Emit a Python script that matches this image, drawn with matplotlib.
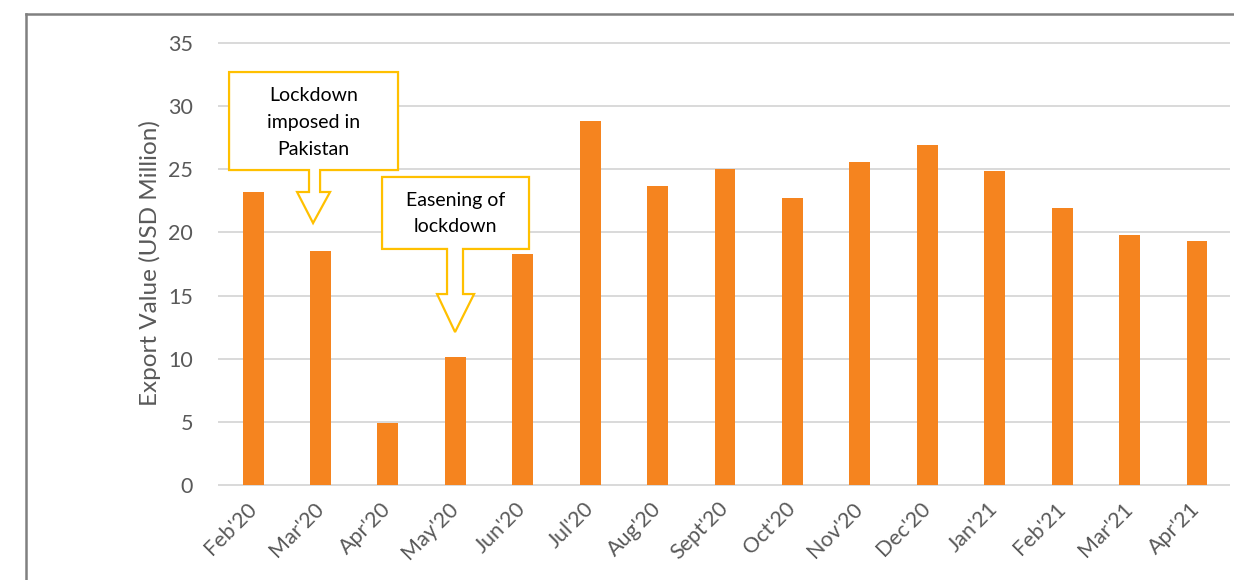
import matplotlib
matplotlib.use("Agg")
import matplotlib.pyplot as plt
from matplotlib.patches import Polygon
from matplotlib.lines import Line2D

months = ["Feb'20", "Mar'20", "Apr'20", "May'20", "Jun'20", "Jul'20", "Aug'20",
          "Sept'20", "Oct'20", "Nov'20", "Dec'20", "Jan'21", "Feb'21", "Mar'21", "Apr'21"]
export_values = [23.2, 18.5, 4.9, 10.1, 18.3, 28.8, 23.7, 25.0, 22.7, 25.6, 26.9, 24.9, 21.9, 19.8, 19.3]
yticks = [0, 5, 10, 15, 20, 25, 30, 35]

plt.rcParams['font.family'] = ['Lato', 'DejaVu Sans']

W, H = 1234, 580
fig = plt.figure(figsize=(W / 100, H / 100), dpi=100)
ax = fig.add_axes([218 / W, 1 - 487.5 / H, 1012 / W, (487.5 - 39.2) / H])

x = list(range(len(months)))
ax.bar(x, export_values, width=0.31, color='#F5841F', zorder=3)
ax.set_xlim(-0.52, 14.49)
ax.set_ylim(-0.2, 35.3)
ax.set_yticks(yticks)
ax.set_xticks(x)
ax.set_xticklabels(months, rotation=45, ha='right', va='center', rotation_mode='anchor')
for s in ax.spines.values():
    s.set_visible(False)
ax.tick_params(axis='both', length=0, colors='#595959', labelsize=15.5)
ax.tick_params(axis='y', pad=18)
ax.tick_params(axis='x', pad=13)
ax.grid(axis='y', color='#D9D9D9', linewidth=1.4, zorder=0)
ax.set_ylabel('Export Value (USD Million)', fontsize=17.5, color='#595959')
ax.yaxis.set_label_coords(-0.056, 0.5)

gold = '#FFC000'

def callout(x0, x1, y0, y1, sx0, sx1, hx0, hx1, hy, tipx, tipy, text, ty):
    pts = [(x0, y1), (x1, y1), (x1, y0), (sx1, y0), (sx1, hy), (hx1, hy), (tipx, tipy),
           (hx0, hy), (sx0, hy), (sx0, y0), (x0, y0)]
    p = Polygon(pts, closed=True, facecolor='white', edgecolor=gold, linewidth=1.6,
                zorder=5, clip_on=False, joinstyle='miter')
    ax.add_patch(p)
    ax.text((x0 + x1) / 2, ty, text, ha='center', va='center', fontsize=14,
            color='black', zorder=6, linespacing=1.7)

callout(-0.356, 2.150, 24.94, 32.70, 0.830, 0.994, 0.653, 1.142, 23.2, 0.89, 20.74,
        "Lockdown\nimposed in\nPakistan", 28.7)
callout(1.913, 4.093, 18.69, 24.39, 2.877, 3.114, 2.729, 3.278, 15.12, 2.996, 12.11,
        "Easening of\nlockdown", 21.5)

# outer frame (top and left edges visible)
fig.add_artist(Line2D([26 / W, 1.0], [1 - 14 / H, 1 - 14 / H], transform=fig.transFigure,
                      color='#808080', linewidth=1.8))
fig.add_artist(Line2D([26 / W, 26 / W], [0, 1 - 14 / H], transform=fig.transFigure,
                      color='#808080', linewidth=1.8))

fig.savefig('out.png', dpi=100, facecolor='white')
